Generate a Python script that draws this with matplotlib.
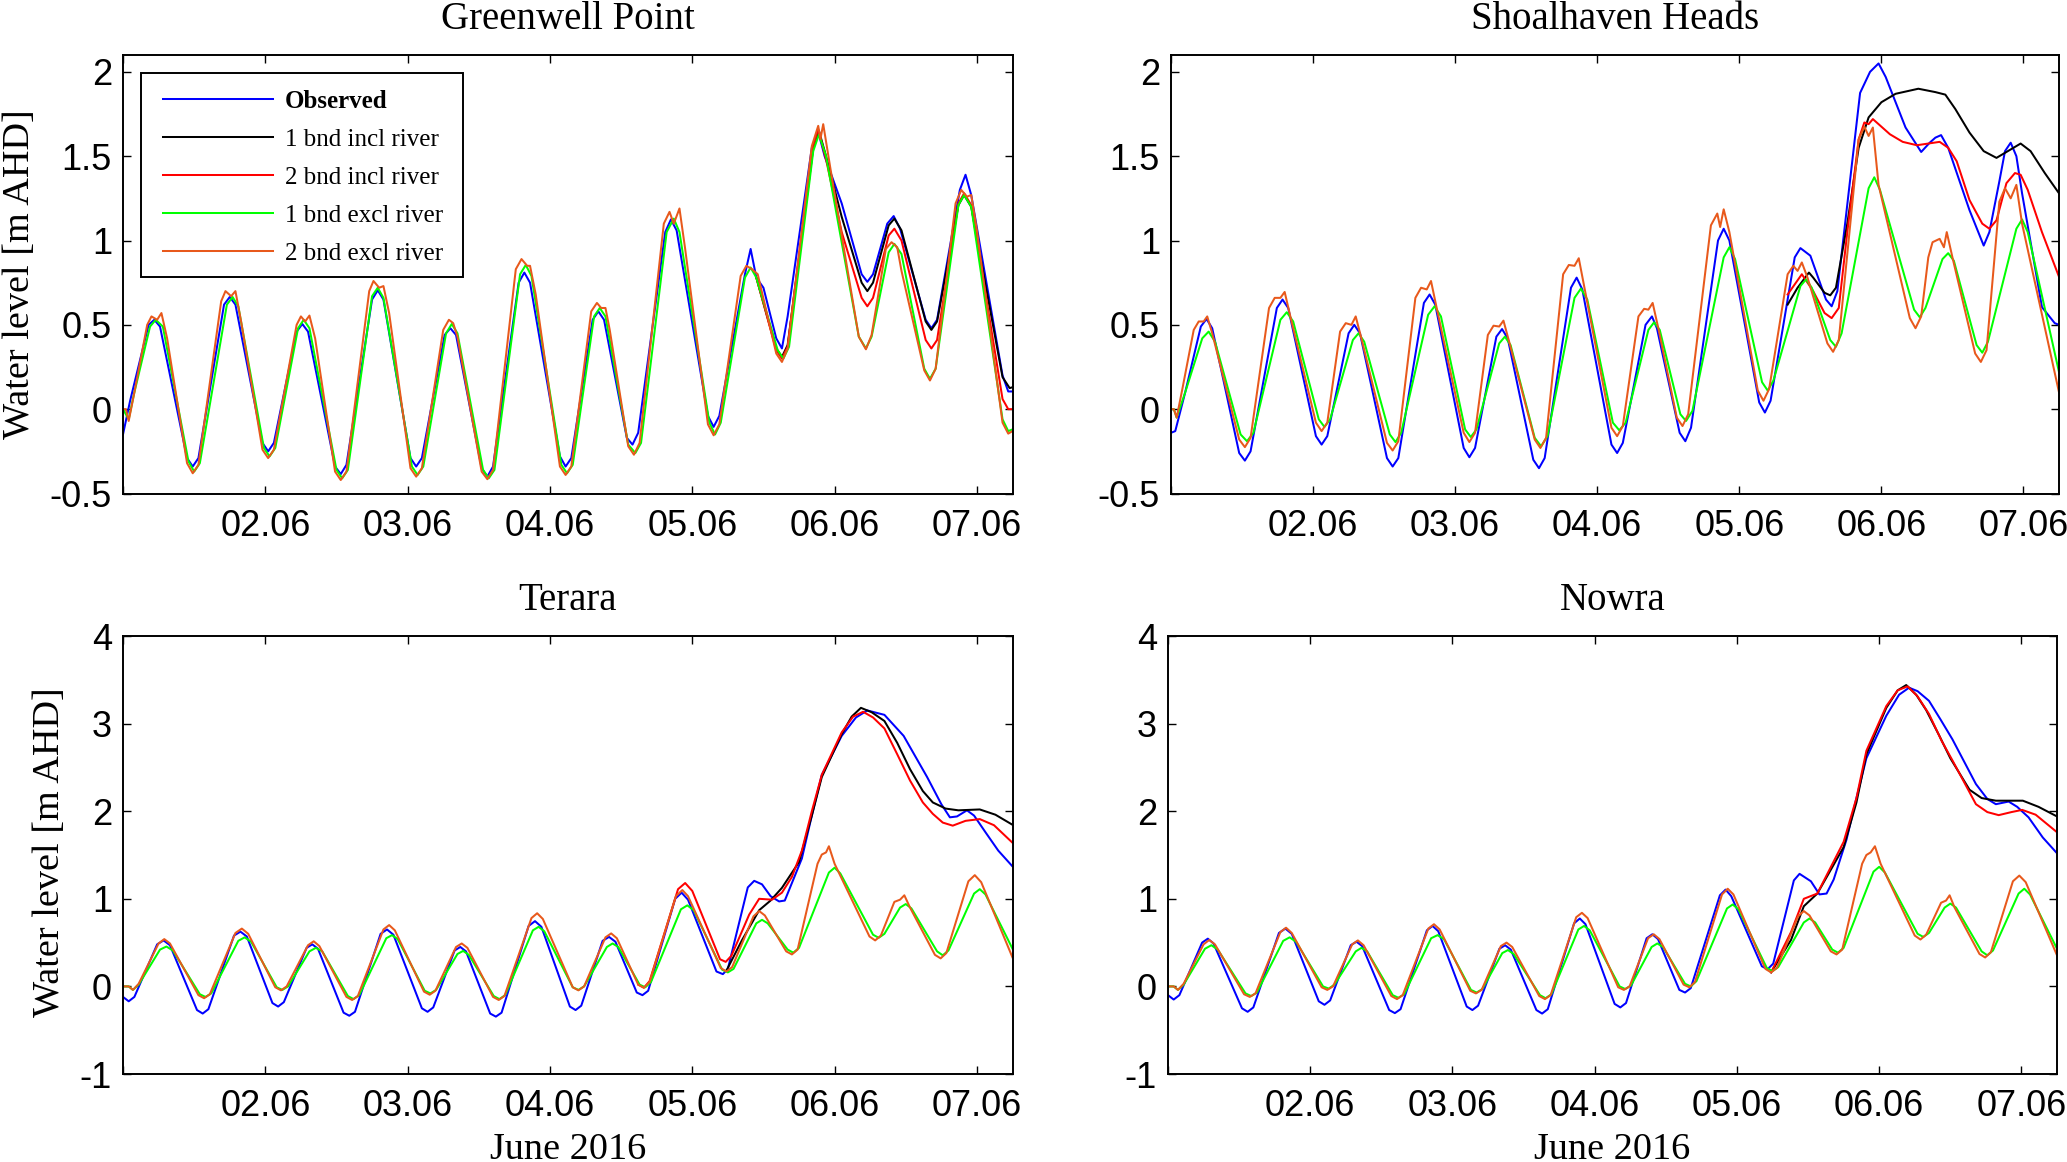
#!/usr/bin/env python

# Water levels at four stations, June 2016

import matplotlib
matplotlib.use('Agg')
from matplotlib import pyplot as plt
from matplotlib.patches import Rectangle

labels = ['Observed', '1 bnd incl river', '2 bnd incl river', '1 bnd excl river', '2 bnd excl river']
colors = ['#0000ff', '#000000', '#ff0000', '#00ff00', '#e8591c']
day_ticks = [1, 2, 3, 4, 5, 6, 7]
day_labels = ['', '02.06', '03.06', '04.06', '05.06', '06.06', '07.06']

# Greenwell Point
gp_obs_t = [1.00, 1.05, 1.18, 1.22, 1.26, 1.45, 1.49, 1.53, 1.71, 1.75, 1.79, 1.98, 2.02, 2.06, 2.22, 2.26, 2.30, 2.49, 2.53, 2.57, 2.75, 2.79, 2.83, 3.02, 3.06, 3.10, 3.26, 3.30, 3.34, 3.52, 3.56, 3.60, 3.78, 3.82, 3.86, 4.07, 4.11, 4.15, 4.30, 4.34, 4.38, 4.54, 4.58, 4.62, 4.81, 4.85, 4.89, 5.11, 5.15, 5.19, 5.37, 5.41, 5.45, 5.50, 5.59, 5.63, 5.67, 5.84, 5.885, 5.93, 6.05, 6.19, 6.23, 6.27, 6.37, 6.415, 6.46, 6.64, 6.68, 6.72, 6.88, 6.92, 6.96, 7.18, 7.22, 7.25]
gp_obs = [-0.15, 0.05, 0.50, 0.53, 0.49, -0.29, -0.34, -0.29, 0.62, 0.665, 0.62, -0.20, -0.25, -0.20, 0.46, 0.505, 0.46, -0.34, -0.385, -0.33, 0.65, 0.705, 0.65, -0.29, -0.34, -0.29, 0.44, 0.48, 0.44, -0.35, -0.40, -0.34, 0.75, 0.81, 0.75, -0.28, -0.34, -0.29, 0.53, 0.58, 0.53, -0.17, -0.21, -0.14, 1.05, 1.125, 1.06, -0.04, -0.105, -0.04, 0.80, 0.95, 0.78, 0.72, 0.42, 0.36, 0.55, 1.55, 1.645, 1.50, 1.22, 0.80, 0.755, 0.80, 1.10, 1.145, 1.07, 0.53, 0.48, 0.53, 1.30, 1.39, 1.27, 0.20, 0.105, 0.105]
gp_b1in_t = [5.45, 5.59, 5.63, 5.67, 5.85, 5.89, 5.94, 6.05, 6.19, 6.23, 6.27, 6.38, 6.42, 6.47, 6.64, 6.68, 6.72, 6.87, 6.91, 6.96, 7.18, 7.23, 7.25]
gp_b1in = [0.78, 0.36, 0.31, 0.38, 1.55, 1.65, 1.50, 1.14, 0.75, 0.70, 0.75, 1.09, 1.13, 1.06, 0.52, 0.47, 0.52, 1.21, 1.27, 1.20, 0.19, 0.125, 0.13]
gp_b2in_t = [5.45, 5.59, 5.63, 5.67, 5.85, 5.885, 5.94, 6.05, 6.19, 6.23, 6.27, 6.38, 6.42, 6.47, 6.64, 6.68, 6.72, 6.87, 6.91, 6.96, 7.18, 7.22, 7.25]
gp_b2in = [0.78, 0.35, 0.30, 0.37, 1.56, 1.66, 1.48, 1.05, 0.66, 0.61, 0.66, 1.03, 1.07, 1.00, 0.41, 0.36, 0.41, 1.22, 1.28, 1.21, 0.06, 0.00, 0.00]
gp_b1ex_t = [1.00, 1.04, 1.08, 1.19, 1.23, 1.28, 1.46, 1.50, 1.54, 1.73, 1.77, 1.81, 1.99, 2.03, 2.07, 2.23, 2.27, 2.31, 2.50, 2.54, 2.58, 2.75, 2.79, 2.83, 3.03, 3.07, 3.11, 3.27, 3.31, 3.35, 3.53, 3.57, 3.61, 3.79, 3.83, 3.87, 4.08, 4.12, 4.16, 4.31, 4.35, 4.39, 4.55, 4.60, 4.64, 4.82, 4.87, 4.91, 5.12, 5.16, 5.20, 5.37, 5.41, 5.45, 5.60, 5.64, 5.68, 5.85, 5.89, 5.94, 6.17, 6.22, 6.26, 6.38, 6.42, 6.47, 6.63, 6.67, 6.71, 6.87, 6.91, 6.96, 7.18, 7.22, 7.25]
gp_b1ex = [0.00, -0.06, 0.10, 0.49, 0.53, 0.49, -0.31, -0.37, -0.32, 0.62, 0.665, 0.61, -0.23, -0.28, -0.23, 0.48, 0.53, 0.48, -0.36, -0.41, -0.36, 0.67, 0.72, 0.66, -0.34, -0.39, -0.34, 0.45, 0.505, 0.45, -0.36, -0.41, -0.36, 0.80, 0.855, 0.79, -0.33, -0.38, -0.33, 0.55, 0.60, 0.55, -0.21, -0.26, -0.20, 1.05, 1.13, 1.05, -0.08, -0.15, -0.08, 0.78, 0.84, 0.78, 0.35, 0.30, 0.37, 1.53, 1.63, 1.50, 0.43, 0.36, 0.43, 0.93, 0.98, 0.92, 0.24, 0.18, 0.24, 1.21, 1.27, 1.20, -0.06, -0.13, -0.12]
gp_b2ex_t = [1.00, 1.02, 1.04, 1.08, 1.17, 1.20, 1.24, 1.27, 1.31, 1.45, 1.49, 1.53, 1.69, 1.72, 1.76, 1.79, 1.83, 1.98, 2.02, 2.06, 2.22, 2.25, 2.28, 2.31, 2.35, 2.49, 2.53, 2.57, 2.73, 2.76, 2.80, 2.83, 2.87, 3.02, 3.06, 3.10, 3.25, 3.29, 3.32, 3.35, 3.52, 3.56, 3.60, 3.76, 3.80, 3.84, 3.86, 3.90, 4.07, 4.11, 4.15, 4.29, 4.33, 4.36, 4.39, 4.42, 4.55, 4.59, 4.63, 4.80, 4.84, 4.87, 4.91, 4.95, 5.11, 5.15, 5.19, 5.34, 5.38, 5.42, 5.46, 5.59, 5.63, 5.67, 5.84, 5.885, 5.90, 5.92, 5.97, 6.17, 6.22, 6.26, 6.36, 6.40, 6.44, 6.47, 6.63, 6.67, 6.71, 6.85, 6.89, 6.93, 6.96, 7.00, 7.18, 7.22, 7.25]
gp_b2ex = [0.00, 0.00, -0.07, 0.10, 0.50, 0.55, 0.53, 0.57, 0.42, -0.32, -0.38, -0.33, 0.64, 0.70, 0.67, 0.70, 0.52, -0.24, -0.29, -0.24, 0.50, 0.55, 0.52, 0.555, 0.42, -0.37, -0.42, -0.37, 0.70, 0.76, 0.72, 0.73, 0.57, -0.35, -0.40, -0.35, 0.47, 0.53, 0.51, 0.43, -0.37, -0.415, -0.36, 0.83, 0.89, 0.85, 0.85, 0.68, -0.34, -0.39, -0.34, 0.58, 0.63, 0.60, 0.60, 0.47, -0.22, -0.27, -0.20, 1.10, 1.17, 1.10, 1.19, 0.95, -0.09, -0.155, -0.09, 0.79, 0.85, 0.83, 0.80, 0.33, 0.28, 0.36, 1.56, 1.68, 1.60, 1.69, 1.43, 0.43, 0.355, 0.44, 0.95, 0.99, 0.96, 0.82, 0.23, 0.17, 0.24, 1.22, 1.30, 1.26, 1.27, 1.06, -0.08, -0.145, -0.13]

# Shoalhaven Heads
sh_obs_t = [1.00, 1.03, 1.10, 1.21, 1.25, 1.29, 1.48, 1.52, 1.56, 1.745, 1.785, 1.825, 2.02, 2.06, 2.10, 2.25, 2.29, 2.33, 2.52, 2.56, 2.60, 2.78, 2.82, 2.86, 3.06, 3.10, 3.14, 3.29, 3.33, 3.37, 3.55, 3.59, 3.63, 3.815, 3.855, 3.895, 4.10, 4.14, 4.18, 4.34, 4.385, 4.42, 4.58, 4.62, 4.66, 4.85, 4.89, 4.93, 5.14, 5.18, 5.22, 5.39, 5.43, 5.50, 5.61, 5.65, 5.69, 5.85, 5.92, 5.98, 6.03, 6.17, 6.28, 6.34, 6.38, 6.42, 6.47, 6.62, 6.72, 6.76, 6.83, 6.87, 6.91, 6.95, 6.99, 7.13, 7.22, 7.25]
sh_obs = [-0.14, -0.13, 0.10, 0.49, 0.535, 0.48, -0.26, -0.305, -0.25, 0.60, 0.65, 0.60, -0.16, -0.21, -0.16, 0.45, 0.50, 0.45, -0.29, -0.34, -0.29, 0.63, 0.68, 0.62, -0.23, -0.285, -0.23, 0.43, 0.475, 0.42, -0.30, -0.35, -0.29, 0.72, 0.78, 0.71, -0.21, -0.26, -0.20, 0.50, 0.55, 0.48, -0.14, -0.19, -0.11, 1.00, 1.07, 1.00, 0.04, -0.02, 0.05, 0.90, 0.955, 0.91, 0.65, 0.61, 0.70, 1.875, 2.00, 2.05, 1.97, 1.67, 1.525, 1.58, 1.61, 1.625, 1.55, 1.18, 0.97, 1.05, 1.35, 1.53, 1.58, 1.50, 1.28, 0.605, 0.51, 0.50]
sh_b1in_t = [5.34, 5.41, 5.49, 5.52, 5.60, 5.64, 5.68, 5.76, 5.84, 5.91, 6.00, 6.10, 6.26, 6.38, 6.45, 6.52, 6.62, 6.72, 6.81, 6.89, 6.98, 7.05, 7.15, 7.25]
sh_b1in = [0.62, 0.72, 0.81, 0.78, 0.69, 0.675, 0.72, 1.10, 1.55, 1.73, 1.82, 1.87, 1.90, 1.88, 1.865, 1.78, 1.64, 1.53, 1.49, 1.53, 1.575, 1.53, 1.40, 1.28]
sh_b2in_t = [5.34, 5.44, 5.52, 5.60, 5.65, 5.70, 5.76, 5.84, 5.88, 5.91, 5.94, 6.06, 6.15, 6.25, 6.33, 6.41, 6.47, 6.53, 6.62, 6.71, 6.76, 6.81, 6.88, 6.94, 6.98, 7.03, 7.13, 7.25]
sh_b2in = [0.68, 0.80, 0.70, 0.57, 0.54, 0.60, 1.05, 1.60, 1.70, 1.69, 1.72, 1.63, 1.585, 1.565, 1.575, 1.585, 1.55, 1.47, 1.24, 1.10, 1.07, 1.12, 1.34, 1.40, 1.39, 1.30, 1.05, 0.785]
sh_b1ex_t = [1.00, 1.02, 1.04, 1.10, 1.22, 1.265, 1.31, 1.49, 1.535, 1.58, 1.77, 1.815, 1.86, 2.04, 2.08, 2.12, 2.28, 2.32, 2.36, 2.54, 2.58, 2.62, 2.81, 2.855, 2.90, 3.07, 3.11, 3.15, 3.31, 3.35, 3.39, 3.56, 3.605, 3.65, 3.84, 3.885, 3.93, 4.11, 4.155, 4.20, 4.36, 4.40, 4.44, 4.585, 4.625, 4.67, 4.89, 4.93, 4.97, 5.16, 5.20, 5.24, 5.43, 5.47, 5.51, 5.64, 5.68, 5.72, 5.91, 5.95, 5.99, 6.23, 6.27, 6.31, 6.43, 6.47, 6.51, 6.67, 6.71, 6.75, 6.95, 6.99, 7.03, 7.25]
sh_b1ex = [0.00, 0.00, -0.05, 0.10, 0.42, 0.46, 0.40, -0.15, -0.19, -0.14, 0.53, 0.575, 0.52, -0.06, -0.105, -0.06, 0.41, 0.45, 0.40, -0.15, -0.195, -0.14, 0.56, 0.61, 0.55, -0.12, -0.165, -0.12, 0.39, 0.43, 0.38, -0.17, -0.22, -0.16, 0.66, 0.715, 0.65, -0.08, -0.125, -0.08, 0.47, 0.515, 0.47, -0.03, -0.07, -0.01, 0.90, 0.96, 0.89, 0.16, 0.11, 0.17, 0.73, 0.77, 0.72, 0.41, 0.37, 0.45, 1.31, 1.375, 1.30, 0.59, 0.545, 0.60, 0.89, 0.925, 0.88, 0.38, 0.335, 0.40, 1.07, 1.125, 1.05, 0.22]
sh_b2ex_t = [1.00, 1.02, 1.04, 1.08, 1.16, 1.195, 1.23, 1.255, 1.29, 1.48, 1.52, 1.56, 1.69, 1.73, 1.77, 1.80, 1.84, 2.02, 2.06, 2.10, 2.19, 2.23, 2.27, 2.30, 2.34, 2.52, 2.56, 2.60, 2.72, 2.76, 2.80, 2.83, 2.87, 3.06, 3.10, 3.14, 3.23, 3.27, 3.31, 3.34, 3.38, 3.56, 3.60, 3.64, 3.76, 3.80, 3.84, 3.87, 3.91, 4.10, 4.14, 4.18, 4.29, 4.33, 4.36, 4.39, 4.43, 4.56, 4.60, 4.64, 4.80, 4.845, 4.865, 4.89, 4.93, 5.13, 5.17, 5.21, 5.34, 5.38, 5.41, 5.44, 5.48, 5.62, 5.66, 5.70, 5.84, 5.88, 5.91, 5.94, 5.98, 6.20, 6.24, 6.28, 6.33, 6.36, 6.41, 6.44, 6.46, 6.50, 6.66, 6.70, 6.74, 6.83, 6.87, 6.91, 6.95, 6.99, 7.25]
sh_b2ex = [0.00, 0.00, -0.05, 0.12, 0.47, 0.52, 0.52, 0.55, 0.45, -0.18, -0.225, -0.17, 0.60, 0.66, 0.66, 0.695, 0.55, -0.08, -0.13, -0.08, 0.46, 0.51, 0.50, 0.55, 0.42, -0.20, -0.245, -0.19, 0.66, 0.72, 0.71, 0.76, 0.60, -0.14, -0.195, -0.14, 0.44, 0.495, 0.49, 0.525, 0.40, -0.18, -0.23, -0.17, 0.80, 0.855, 0.85, 0.895, 0.72, -0.11, -0.16, -0.10, 0.55, 0.595, 0.59, 0.63, 0.48, -0.05, -0.10, -0.03, 1.09, 1.16, 1.08, 1.185, 1.05, 0.11, 0.05, 0.12, 0.80, 0.85, 0.82, 0.87, 0.78, 0.39, 0.34, 0.41, 1.60, 1.675, 1.62, 1.67, 1.33, 0.54, 0.48, 0.55, 0.90, 0.99, 1.01, 0.96, 1.05, 0.90, 0.33, 0.28, 0.35, 1.23, 1.31, 1.25, 1.33, 1.10, 0.10]

# Terara
te_obs_t = [1.00, 1.04, 1.08, 1.24, 1.285, 1.33, 1.52, 1.56, 1.60, 1.78, 1.825, 1.87, 2.05, 2.09, 2.13, 2.29, 2.33, 2.37, 2.55, 2.59, 2.63, 2.81, 2.855, 2.90, 3.10, 3.14, 3.18, 3.33, 3.37, 3.41, 3.58, 3.62, 3.66, 3.85, 3.895, 3.94, 4.14, 4.18, 4.22, 4.37, 4.415, 4.46, 4.61, 4.65, 4.69, 4.88, 4.925, 4.97, 5.17, 5.215, 5.25, 5.39, 5.435, 5.49, 5.55, 5.61, 5.65, 5.77, 5.84, 5.91, 6.05, 6.15, 6.23, 6.35, 6.485, 6.65, 6.75, 6.81, 6.86, 6.93, 6.98, 7.06, 7.15, 7.25]
te_obs = [-0.12, -0.17, -0.12, 0.48, 0.525, 0.47, -0.27, -0.31, -0.26, 0.58, 0.625, 0.57, -0.19, -0.23, -0.18, 0.44, 0.48, 0.43, -0.30, -0.335, -0.29, 0.60, 0.65, 0.59, -0.25, -0.29, -0.24, 0.41, 0.45, 0.40, -0.31, -0.345, -0.30, 0.69, 0.745, 0.68, -0.23, -0.27, -0.22, 0.52, 0.565, 0.51, -0.07, -0.10, -0.05, 1.00, 1.07, 0.99, 0.17, 0.14, 0.20, 1.13, 1.205, 1.165, 1.03, 0.97, 0.98, 1.46, 1.95, 2.415, 2.86, 3.07, 3.15, 3.10, 2.86, 2.39, 2.08, 1.93, 1.94, 2.01, 1.95, 1.76, 1.55, 1.37]
te_b1in_t = [5.24, 5.35, 5.47, 5.55, 5.63, 5.75, 5.84, 5.91, 6.05, 6.12, 6.185, 6.26, 6.35, 6.44, 6.53, 6.62, 6.69, 6.78, 6.87, 7.02, 7.13, 7.25]
te_b1in = [0.18, 0.53, 0.87, 0.98, 1.125, 1.42, 1.95, 2.39, 2.88, 3.08, 3.18, 3.13, 3.03, 2.78, 2.48, 2.23, 2.10, 2.03, 2.01, 2.02, 1.96, 1.845]
te_b2in_t = [4.62, 4.66, 4.70, 4.90, 4.95, 5.00, 5.195, 5.235, 5.275, 5.40, 5.47, 5.56, 5.63, 5.70, 5.77, 5.84, 5.91, 6.05, 6.13, 6.20, 6.27, 6.35, 6.44, 6.53, 6.62, 6.69, 6.76, 6.83, 6.92, 7.02, 7.12, 7.25]
te_b2in = [0.02, -0.015, 0.06, 1.11, 1.18, 1.09, 0.31, 0.28, 0.35, 0.82, 1.00, 0.99, 1.07, 1.25, 1.55, 2.00, 2.415, 2.90, 3.08, 3.135, 3.07, 2.945, 2.65, 2.35, 2.10, 1.97, 1.87, 1.835, 1.89, 1.91, 1.84, 1.64]
te_b1ex_t = [1.00, 1.04, 1.07, 1.11, 1.26, 1.305, 1.35, 1.54, 1.58, 1.62, 1.81, 1.855, 1.90, 2.08, 2.12, 2.16, 2.31, 2.355, 2.40, 2.58, 2.62, 2.66, 2.85, 2.89, 2.93, 3.12, 3.16, 3.20, 3.35, 3.39, 3.43, 3.605, 3.645, 3.685, 3.88, 3.92, 3.96, 4.16, 4.20, 4.24, 4.40, 4.44, 4.48, 4.63, 4.67, 4.71, 4.92, 4.965, 5.01, 5.21, 5.25, 5.29, 5.45, 5.49, 5.53, 5.67, 5.71, 5.75, 5.96, 6.00, 6.04, 6.27, 6.31, 6.35, 6.46, 6.50, 6.54, 6.72, 6.76, 6.80, 6.98, 7.02, 7.06, 7.25]
te_b1ex = [0.00, 0.00, -0.04, 0.02, 0.42, 0.455, 0.41, -0.09, -0.12, -0.08, 0.52, 0.56, 0.51, -0.01, -0.04, 0.00, 0.40, 0.44, 0.40, -0.11, -0.145, -0.10, 0.55, 0.585, 0.54, -0.05, -0.08, -0.04, 0.37, 0.405, 0.36, -0.11, -0.145, -0.10, 0.64, 0.68, 0.63, -0.01, -0.04, 0.00, 0.45, 0.49, 0.45, 0.02, -0.01, 0.05, 0.88, 0.925, 0.87, 0.19, 0.16, 0.20, 0.72, 0.76, 0.72, 0.42, 0.385, 0.44, 1.30, 1.355, 1.29, 0.59, 0.555, 0.60, 0.90, 0.94, 0.89, 0.40, 0.355, 0.41, 1.06, 1.11, 1.05, 0.43]
te_b2ex_t = [1.00, 1.04, 1.07, 1.11, 1.25, 1.29, 1.33, 1.53, 1.57, 1.61, 1.79, 1.835, 1.88, 2.07, 2.11, 2.15, 2.30, 2.34, 2.38, 2.57, 2.61, 2.65, 2.83, 2.87, 2.91, 3.115, 3.155, 3.195, 3.34, 3.38, 3.42, 3.60, 3.64, 3.68, 3.87, 3.91, 3.95, 4.16, 4.20, 4.24, 4.39, 4.43, 4.47, 4.62, 4.66, 4.70, 4.885, 4.93, 4.97, 5.20, 5.24, 5.28, 5.43, 5.47, 5.51, 5.66, 5.70, 5.74, 5.88, 5.91, 5.94, 5.96, 6.00, 6.245, 6.285, 6.325, 6.42, 6.46, 6.49, 6.53, 6.705, 6.745, 6.785, 6.94, 6.985, 7.03, 7.25]
te_b2ex = [0.00, 0.00, -0.04, 0.03, 0.49, 0.54, 0.49, -0.10, -0.135, -0.09, 0.61, 0.66, 0.60, -0.01, -0.045, 0.00, 0.47, 0.515, 0.46, -0.12, -0.155, -0.11, 0.65, 0.70, 0.64, -0.06, -0.095, -0.05, 0.45, 0.49, 0.44, -0.12, -0.155, -0.11, 0.78, 0.835, 0.77, -0.01, -0.045, 0.00, 0.56, 0.605, 0.55, 0.02, -0.015, 0.05, 1.03, 1.10, 1.03, 0.21, 0.17, 0.22, 0.80, 0.86, 0.81, 0.40, 0.365, 0.42, 1.40, 1.505, 1.53, 1.60, 1.40, 0.57, 0.525, 0.58, 0.965, 0.99, 1.04, 0.90, 0.36, 0.32, 0.38, 1.20, 1.27, 1.19, 0.33]

# Nowra
no_obs_t = [1.00, 1.04, 1.08, 1.24, 1.28, 1.32, 1.52, 1.56, 1.60, 1.78, 1.825, 1.87, 2.06, 2.10, 2.14, 2.285, 2.325, 2.365, 2.555, 2.595, 2.635, 2.82, 2.86, 2.90, 3.10, 3.14, 3.18, 3.33, 3.37, 3.41, 3.59, 3.63, 3.67, 3.855, 3.895, 3.935, 4.14, 4.18, 4.22, 4.365, 4.405, 4.445, 4.595, 4.635, 4.675, 4.88, 4.92, 4.96, 5.175, 5.215, 5.255, 5.40, 5.44, 5.52, 5.58, 5.63, 5.68, 5.77, 5.84, 5.91, 6.05, 6.14, 6.21, 6.27, 6.35, 6.43, 6.515, 6.68, 6.76, 6.82, 6.91, 6.97, 7.05, 7.15, 7.25]
no_obs = [-0.10, -0.15, -0.10, 0.50, 0.545, 0.49, -0.25, -0.29, -0.24, 0.61, 0.66, 0.60, -0.17, -0.21, -0.16, 0.47, 0.51, 0.46, -0.27, -0.305, -0.26, 0.64, 0.69, 0.63, -0.23, -0.27, -0.22, 0.43, 0.47, 0.42, -0.27, -0.31, -0.26, 0.72, 0.775, 0.71, -0.20, -0.24, -0.19, 0.55, 0.595, 0.54, -0.04, -0.07, -0.02, 1.04, 1.105, 1.03, 0.23, 0.195, 0.26, 1.21, 1.285, 1.20, 1.05, 1.06, 1.22, 1.675, 2.15, 2.605, 3.09, 3.33, 3.41, 3.37, 3.26, 3.05, 2.82, 2.31, 2.14, 2.08, 2.11, 2.05, 1.93, 1.70, 1.52]
no_b1in_t = [5.24, 5.38, 5.47, 5.565, 5.75, 5.84, 5.91, 6.05, 6.13, 6.19, 6.26, 6.33, 6.42, 6.50, 6.635, 6.72, 6.82, 7.01, 7.12, 7.25]
no_b1in = [0.16, 0.53, 0.915, 1.06, 1.59, 2.10, 2.65, 3.18, 3.38, 3.44, 3.33, 3.155, 2.87, 2.605, 2.245, 2.15, 2.12, 2.12, 2.05, 1.94]
no_b2in_t = [5.24, 5.38, 5.47, 5.565, 5.75, 5.84, 5.91, 6.05, 6.13, 6.20, 6.27, 6.35, 6.44, 6.52, 6.68, 6.76, 6.84, 6.93, 7.005, 7.10, 7.25]
no_b2in = [0.16, 0.62, 1.00, 1.06, 1.65, 2.15, 2.69, 3.20, 3.38, 3.425, 3.31, 3.11, 2.80, 2.565, 2.08, 1.99, 1.955, 1.99, 2.015, 1.96, 1.76]
no_b1ex_t = [1.00, 1.04, 1.07, 1.11, 1.26, 1.305, 1.35, 1.545, 1.585, 1.625, 1.81, 1.855, 1.90, 2.09, 2.13, 2.17, 2.32, 2.36, 2.40, 2.58, 2.62, 2.66, 2.85, 2.895, 2.94, 3.13, 3.17, 3.21, 3.35, 3.39, 3.43, 3.615, 3.655, 3.695, 3.885, 3.925, 3.965, 4.175, 4.215, 4.255, 4.40, 4.44, 4.48, 4.635, 4.675, 4.715, 4.93, 4.97, 5.01, 5.21, 5.25, 5.29, 5.47, 5.51, 5.55, 5.67, 5.71, 5.75, 5.96, 6.00, 6.04, 6.27, 6.31, 6.35, 6.46, 6.50, 6.54, 6.72, 6.76, 6.80, 6.98, 7.02, 7.06, 7.25]
no_b1ex = [0.00, 0.00, -0.04, 0.02, 0.43, 0.47, 0.42, -0.08, -0.11, -0.07, 0.52, 0.56, 0.51, 0.00, -0.025, 0.02, 0.40, 0.44, 0.40, -0.10, -0.13, -0.09, 0.55, 0.585, 0.54, -0.04, -0.07, -0.03, 0.38, 0.415, 0.37, -0.10, -0.135, -0.09, 0.65, 0.69, 0.64, 0.00, -0.03, 0.01, 0.45, 0.49, 0.45, 0.03, 0.00, 0.06, 0.89, 0.935, 0.88, 0.21, 0.175, 0.22, 0.73, 0.775, 0.73, 0.42, 0.385, 0.44, 1.31, 1.365, 1.30, 0.60, 0.565, 0.61, 0.90, 0.945, 0.90, 0.40, 0.355, 0.41, 1.06, 1.115, 1.05, 0.43]
no_b2ex_t = [1.00, 1.04, 1.07, 1.11, 1.25, 1.29, 1.33, 1.535, 1.575, 1.615, 1.79, 1.83, 1.87, 2.08, 2.12, 2.16, 2.295, 2.335, 2.375, 2.57, 2.61, 2.65, 2.83, 2.87, 2.91, 3.125, 3.165, 3.205, 3.34, 3.38, 3.42, 3.61, 3.65, 3.69, 3.87, 3.91, 3.95, 4.165, 4.205, 4.245, 4.375, 4.415, 4.455, 4.625, 4.665, 4.705, 4.895, 4.935, 4.975, 5.20, 5.24, 5.28, 5.43, 5.47, 5.51, 5.66, 5.70, 5.74, 5.88, 5.91, 5.94, 5.97, 6.01, 6.25, 6.29, 6.33, 6.435, 6.47, 6.495, 6.53, 6.705, 6.745, 6.785, 6.94, 6.985, 7.03, 7.25]
no_b2ex = [0.00, 0.00, -0.04, 0.03, 0.48, 0.53, 0.48, -0.09, -0.12, -0.08, 0.62, 0.67, 0.61, -0.01, -0.04, 0.00, 0.48, 0.525, 0.47, -0.11, -0.145, -0.10, 0.66, 0.71, 0.65, -0.05, -0.08, -0.04, 0.46, 0.50, 0.45, -0.11, -0.145, -0.10, 0.79, 0.84, 0.78, -0.01, -0.04, 0.00, 0.55, 0.595, 0.54, 0.02, -0.01, 0.05, 1.05, 1.115, 1.05, 0.20, 0.16, 0.21, 0.80, 0.86, 0.81, 0.40, 0.365, 0.42, 1.40, 1.50, 1.53, 1.60, 1.40, 0.58, 0.535, 0.59, 0.955, 0.98, 1.04, 0.90, 0.37, 0.33, 0.39, 1.20, 1.265, 1.19, 0.355]

W, H = 2067, 1162
SERIF = 'Liberation Serif'
SANS = 'Liberation Sans'


def make_axes(fig, x0, x1, y0, y1):
    """pixel box of the reference -> figure axes"""
    return fig.add_axes([x0 / W, 1 - y1 / H, (x1 - x0) / W, (y1 - y0) / H])


def plot_panel(ax, title, series, ylim, yticks, yticklabels):
    for (t, v), color, label in zip(series, colors, labels):
        ax.plot(t, v, color=color, lw=1.45, label=label, solid_joinstyle='round')
    ax.set_xlim(1, 7.25)
    ax.set_ylim(*ylim)
    ax.set_xticks(day_ticks)
    ax.set_xticklabels(day_labels, family=SANS, fontsize=26)
    ax.set_yticks(yticks)
    ax.set_yticklabels(yticklabels, family=SANS, fontsize=26)
    ax.tick_params(axis='both', which='major', direction='in', top=True, right=True,
                   length=5.8, width=1.0)
    ax.tick_params(axis='x', pad=11)
    ax.tick_params(axis='y', pad=8)
    for spine in ax.spines.values():
        spine.set_linewidth(1.4)
    ax.set_title(title, family=SERIF, fontsize=28, pad=18.5)


def main():
    fig = plt.figure(figsize=(W / 100, H / 100), dpi=100)

    ax1 = make_axes(fig, 123, 1012.5, 55, 493.5)
    ax2 = make_axes(fig, 1171, 2059, 55, 493.5)
    ax3 = make_axes(fig, 123, 1012.5, 636, 1074)
    ax4 = make_axes(fig, 1168, 2057, 636, 1074)

    top_ylim = (-0.5, 2.1)
    top_ticks = [-0.5, 0, 0.5, 1, 1.5, 2]
    top_labels = ['-0.5', '0', '0.5', '1', '1.5', '2']
    low_ylim = (-1, 4)
    low_ticks = [-1, 0, 1, 2, 3, 4]
    low_labels = ['-1', '0', '1', '2', '3', '4']

    plot_panel(ax1, 'Greenwell Point',
               [(gp_obs_t, gp_obs), (gp_b1in_t, gp_b1in), (gp_b2in_t, gp_b2in),
                (gp_b1ex_t, gp_b1ex), (gp_b2ex_t, gp_b2ex)],
               top_ylim, top_ticks, top_labels)
    plot_panel(ax2, 'Shoalhaven Heads',
               [(sh_obs_t, sh_obs), (sh_b1in_t, sh_b1in), (sh_b2in_t, sh_b2in),
                (sh_b1ex_t, sh_b1ex), (sh_b2ex_t, sh_b2ex)],
               top_ylim, top_ticks, top_labels)
    plot_panel(ax3, 'Terara',
               [(te_obs_t, te_obs), (te_b1in_t, te_b1in), (te_b2in_t, te_b2in),
                (te_b1ex_t, te_b1ex), (te_b2ex_t, te_b2ex)],
               low_ylim, low_ticks, low_labels)
    plot_panel(ax4, 'Nowra',
               [(no_obs_t, no_obs), (no_b1in_t, no_b1in), (no_b2in_t, no_b2in),
                (no_b1ex_t, no_b1ex), (no_b2ex_t, no_b2ex)],
               low_ylim, low_ticks, low_labels)

    ax1.set_ylabel('Water level [m AHD]', family=SERIF, fontsize=27.5, va='center')
    ax1.yaxis.set_label_coords(-0.116, 0.50)
    ax3.set_ylabel('Water level [m AHD]', family=SERIF, fontsize=27.5, va='center')
    ax3.yaxis.set_label_coords(-0.082, 0.506)
    for ax in (ax3, ax4):
        ax.set_xlabel('June 2016', family=SERIF, fontsize=27.5, va='center')
        ax.xaxis.set_label_coords(0.5, -0.174)

    # legend box is drawn apart, its padding differs left and top
    ax1.add_patch(Rectangle((0.0199, 0.4944), 0.3619, 0.4652, transform=ax1.transAxes,
                            facecolor='white', edgecolor='black', lw=1.4, zorder=4.9))
    leg = ax1.legend(loc='upper left', bbox_to_anchor=(0.045, 0.921), borderaxespad=0,
                     prop={'family': SERIF, 'size': 18}, handlelength=4.4,
                     handletextpad=0.48, labelspacing=0.62, borderpad=0, frameon=False)
    leg.set_zorder(5)
    leg.get_texts()[0].set_fontweight('bold')

    fig.savefig('out.png', dpi=100)


if __name__ == '__main__':
    main()
